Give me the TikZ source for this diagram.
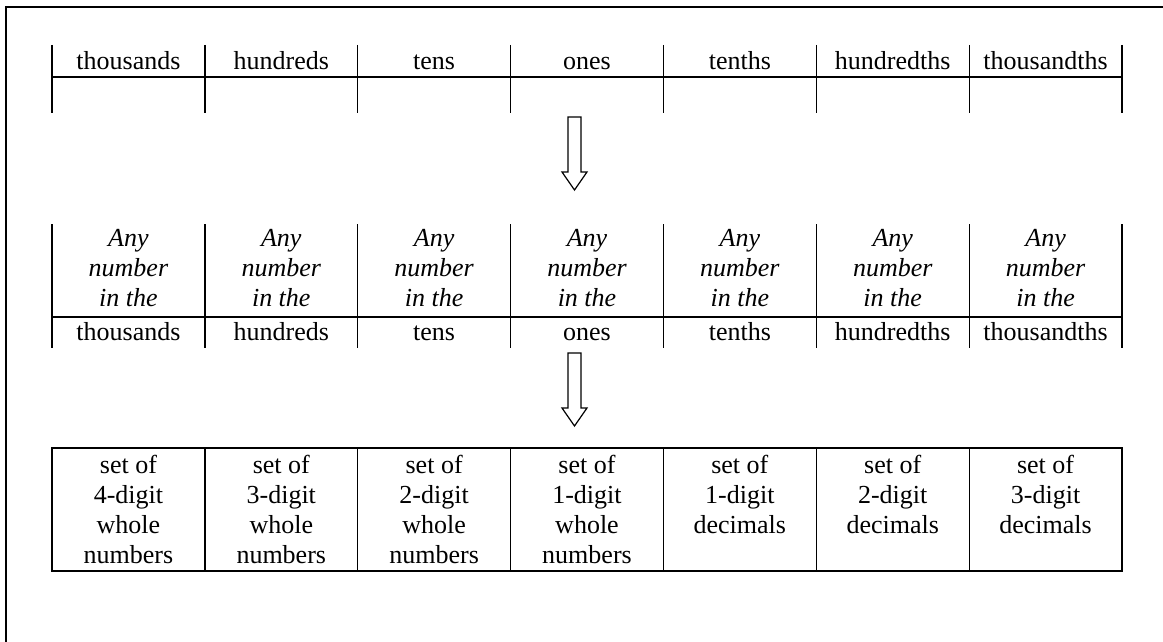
\documentclass[tikz,border=0pt]{standalone}
\usepackage{fontspec}
\setmainfont{Liberation Serif}
\begin{document}
\begin{tikzpicture}[x=1pt,y=-1pt,line width=1.3pt,
  txt/.style={font=\fontsize{26}{30}\selectfont, inner sep=0pt, align=center},
  ital/.style={txt, font=\fontsize{26}{30}\selectfont\itshape},
  frame/.style={line width=1.7pt},
  hollow/.style={line width=1.2pt, fill=white, line join=miter}]
\useasboundingbox (0,0) rectangle (1163,642);
\draw[frame] (6,642) -- (6,7) -- (1163,7);
\def\cw{152.857}
% ---------- top table ----------
\foreach \i in {0,...,7} \draw (52+\i*\cw,45) -- (52+\i*\cw,113);
\draw (52,77) -- (1122,77);
\foreach [count=\i] \w in {thousands,hundreds,tens,ones,tenths,hundredths,thousandths}
  \node[txt, anchor=base] (t\i) at (52+\i*\cw-0.5*\cw,70) {\w};
% ---------- arrow 1 ----------
\coordinate (a1) at (574.5,117);
\draw[hollow] (a1) ++(-6.5,0) -- ++(13,0) -- ++(0,55) -- ++(6,0) -- ++(-12.5,18) -- ++(-12.5,-18) -- ++(6,0) -- cycle;
% ---------- middle table ----------
\foreach \i in {0,...,7} \draw (52+\i*\cw,224) -- (52+\i*\cw,348);
\draw (52,317) -- (1122,317);
\foreach \i in {1,...,7}
  \node[ital, anchor=north] (m\i) at (52+\i*\cw-0.5*\cw,229) {Any\\number\\in the};
\foreach [count=\i] \w in {thousands,hundreds,tens,ones,tenths,hundredths,thousandths}
  \node[txt, anchor=base] (p\i) at (52+\i*\cw-0.5*\cw,340) {\w};
% ---------- arrow 2 ----------
\coordinate (a2) at (574.5,353);
\draw[hollow] (a2) ++(-6.5,0) -- ++(13,0) -- ++(0,55) -- ++(6,0) -- ++(-12.5,18) -- ++(-12.5,-18) -- ++(6,0) -- cycle;
% ---------- bottom table ----------
\draw (52,448) rectangle (1122,571);
\foreach \i in {1,...,6} \draw (52+\i*\cw,448) -- (52+\i*\cw,571);
\foreach [count=\i] \d/\k in {4/whole\\numbers,3/whole\\numbers,2/whole\\numbers,1/whole\\numbers,1/decimals,2/decimals,3/decimals}
  \node[txt, anchor=north] (b\i) at (52+\i*\cw-0.5*\cw,455) {set of\\\d-digit\\\k};
\end{tikzpicture}
\end{document}
